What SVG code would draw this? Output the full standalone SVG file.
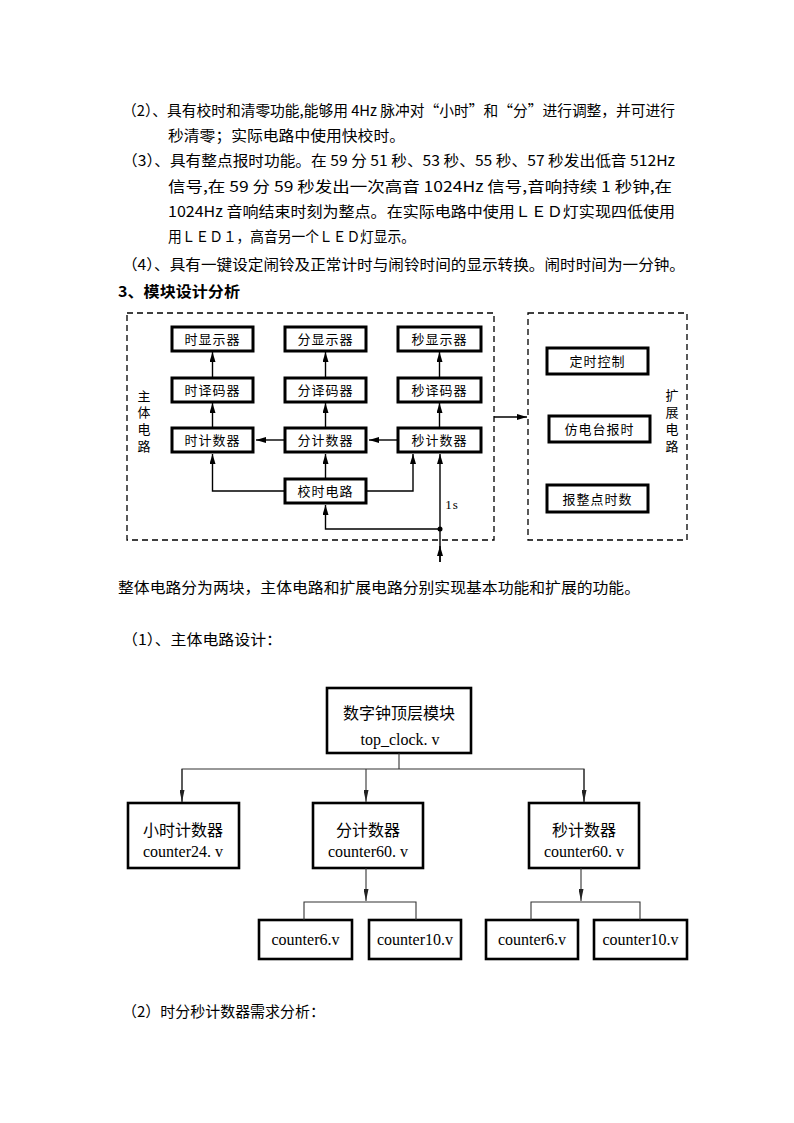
<svg xmlns="http://www.w3.org/2000/svg" width="794" height="1123" viewBox="0 0 794 1123">
<style>
.t{font-family:"Noto Sans CJK SC","Liberation Sans",sans-serif;font-size:15px;fill:#000}
.b{font-family:"Liberation Serif","Noto Sans CJK SC",serif;font-size:13px;fill:#000;text-anchor:middle}
.v{font-family:"Liberation Serif","Noto Sans CJK SC",serif;font-size:13px;fill:#000;text-anchor:middle}
.n{font-family:"Liberation Serif","Noto Sans CJK SC",serif;font-size:16px;fill:#000;text-anchor:middle}
.box{fill:#fff;stroke:#000;stroke-width:3}
.tbox{fill:#fff;stroke:#000;stroke-width:2.6}
.dash{fill:none;stroke:#000;stroke-width:1.3;stroke-dasharray:6,4}
.ln{fill:none;stroke:#000;stroke-width:1.4}
.tl{fill:none;stroke:#333;stroke-width:1.1}
</style>
<defs>
<marker id="a" viewBox="0 0 10 6" refX="10" refY="3" markerWidth="10" markerHeight="6" markerUnits="userSpaceOnUse" orient="auto">
<path d="M0,0 L10,3 L0,6 Z" fill="#000"/>
</marker>
<marker id="ta" viewBox="0 0 12 5" refX="12" refY="2.5" markerWidth="12" markerHeight="5" markerUnits="userSpaceOnUse" orient="auto">
<path d="M0,0 L12,2.5 L0,5 Z" fill="#222"/>
</marker>
</defs>
<rect width="794" height="1123" fill="#fff"/>

<g id="text-top">
<text class="t" x="122" y="116" textLength="553" lengthAdjust="spacingAndGlyphs">（2）、具有校时和清零功能,能够用 4Hz 脉冲对“小时”和“分”进行调整，并可进行</text>
<text class="t" x="168" y="141" textLength="237" lengthAdjust="spacingAndGlyphs">秒清零；实际电路中使用快校时。</text>
<text class="t" x="122" y="166" textLength="553" lengthAdjust="spacingAndGlyphs">（3）、具有整点报时功能。在 59 分 51 秒、53 秒、55 秒、57 秒发出低音 512Hz</text>
<text class="t" x="168" y="192" textLength="504" lengthAdjust="spacingAndGlyphs">信号,在 59 分 59 秒发出一次高音 1024Hz 信号,音响持续 1 秒钟,在</text>
<text class="t" x="168" y="217" textLength="507" lengthAdjust="spacingAndGlyphs">1024Hz 音响结束时刻为整点。在实际电路中使用ＬＥＤ灯实现四低使用</text>
<text class="t" x="168" y="242" textLength="247" lengthAdjust="spacingAndGlyphs">用ＬＥＤ１，高音另一个ＬＥＤ灯显示。</text>
<text class="t" x="122" y="270" textLength="563" lengthAdjust="spacingAndGlyphs">（4）、具有一键设定闹铃及正常计时与闹铃时间的显示转换。闹时时间为一分钟。</text>
<text class="t" x="118" y="297" font-weight="bold" textLength="122" lengthAdjust="spacingAndGlyphs">3、模块设计分析</text>
</g>

<g id="block-diagram">
<rect class="dash" x="127" y="313" width="367" height="227"/>
<rect class="dash" x="528" y="313" width="159" height="227"/>
<g id="labels-vertical">
<text class="v" x="144" y="401">主</text>
<text class="v" x="144" y="417">体</text>
<text class="v" x="144" y="434">电</text>
<text class="v" x="144" y="451">路</text>
<text class="v" x="672" y="400">扩</text>
<text class="v" x="672" y="417">展</text>
<text class="v" x="672" y="434">电</text>
<text class="v" x="672" y="451">路</text>
</g>
<g id="n-shi-disp"><rect class="box" x="172" y="327" width="81" height="24"/><text class="b" x="212.5" y="344" letter-spacing="1">时显示器</text></g>
<g id="n-fen-disp"><rect class="box" x="285" y="327" width="81" height="24"/><text class="b" x="325.5" y="344" letter-spacing="1">分显示器</text></g>
<g id="n-miao-disp"><rect class="box" x="398" y="327" width="83" height="24"/><text class="b" x="439.5" y="344" letter-spacing="1">秒显示器</text></g>
<g id="n-shi-dec"><rect class="box" x="172" y="378" width="81" height="24"/><text class="b" x="212.5" y="395" letter-spacing="1">时译码器</text></g>
<g id="n-fen-dec"><rect class="box" x="285" y="378" width="81" height="24"/><text class="b" x="325.5" y="395" letter-spacing="1">分译码器</text></g>
<g id="n-miao-dec"><rect class="box" x="398" y="378" width="83" height="24"/><text class="b" x="439.5" y="395" letter-spacing="1">秒译码器</text></g>
<g id="n-shi-cnt"><rect class="box" x="172" y="428" width="81" height="24"/><text class="b" x="212.5" y="445" letter-spacing="1">时计数器</text></g>
<g id="n-fen-cnt"><rect class="box" x="285" y="428" width="81" height="24"/><text class="b" x="325.5" y="445" letter-spacing="1">分计数器</text></g>
<g id="n-miao-cnt"><rect class="box" x="398" y="428" width="83" height="24"/><text class="b" x="439.5" y="445" letter-spacing="1">秒计数器</text></g>
<g id="n-jiaoshi"><rect class="box" x="285" y="479" width="81" height="24"/><text class="b" x="325.5" y="496" letter-spacing="1">校时电路</text></g>
<g id="n-dingshi"><rect class="box" x="547" y="348" width="101" height="26"/><text class="b" x="597.5" y="366" letter-spacing="1">定时控制</text></g>
<g id="n-fangdiantai"><rect class="box" x="549" y="416" width="101" height="26"/><text class="b" x="599.5" y="434" letter-spacing="1">仿电台报时</text></g>
<g id="n-baozhengdian"><rect class="box" x="547" y="485" width="101" height="27"/><text class="b" x="597.5" y="504" letter-spacing="1">报整点时数</text></g>
<text class="b" x="452" y="509" font-size="14" letter-spacing="1">1s</text>
</g>

<g id="connectors-block">
<line class="ln" x1="212.5" y1="378" x2="212.5" y2="352" marker-end="url(#a)"/>
<line class="ln" x1="325.5" y1="378" x2="325.5" y2="352" marker-end="url(#a)"/>
<line class="ln" x1="439.5" y1="378" x2="439.5" y2="352" marker-end="url(#a)"/>
<line class="ln" x1="212.5" y1="428" x2="212.5" y2="403" marker-end="url(#a)"/>
<line class="ln" x1="325.5" y1="428" x2="325.5" y2="403" marker-end="url(#a)"/>
<line class="ln" x1="439.5" y1="428" x2="439.5" y2="403" marker-end="url(#a)"/>
<line class="ln" x1="285" y1="440" x2="256" y2="440" marker-end="url(#a)"/>
<line class="ln" x1="398" y1="440" x2="369" y2="440" marker-end="url(#a)"/>
<polyline class="ln" points="285,491 212.5,491 212.5,454" marker-end="url(#a)"/>
<line class="ln" x1="325.5" y1="479" x2="325.5" y2="454" marker-end="url(#a)"/>
<polyline class="ln" points="366,491 413,491 413,454" marker-end="url(#a)"/>
<line class="ln" x1="440" y1="562" x2="440" y2="454" marker-end="url(#a)"/>
<line class="ln" x1="440" y1="562" x2="440" y2="546" marker-end="url(#a)"/>
<polyline class="ln" points="440,529 325.5,529 325.5,505" marker-end="url(#a)"/>
<circle cx="440" cy="529" r="2.5" fill="#000"/>
<line class="ln" x1="494" y1="417" x2="527" y2="417" marker-end="url(#a)"/>
</g>

<g id="text-mid">
<text class="t" x="118" y="593" textLength="522" lengthAdjust="spacingAndGlyphs">整体电路分为两块，主体电路和扩展电路分别实现基本功能和扩展的功能。</text>
<text class="t" x="122" y="645" textLength="160" lengthAdjust="spacingAndGlyphs">（1）、主体电路设计：</text>
</g>

<g id="tree">
<g id="n-top"><rect class="tbox" x="327" y="688" width="144" height="65"/><text class="n" x="399" y="719" font-size="17">数字钟顶层模块</text><text class="n" x="400" y="745">top_clock. v</text></g>
<g id="n-hour"><rect class="tbox" x="128" y="803" width="111" height="65"/><text class="n" x="183" y="836">小时计数器</text><text class="n" x="183" y="857">counter24. v</text></g>
<g id="n-min"><rect class="tbox" x="313" y="803" width="110" height="65"/><text class="n" x="368" y="836">分计数器</text><text class="n" x="368" y="857">counter60. v</text></g>
<g id="n-sec"><rect class="tbox" x="529" y="803" width="110" height="65"/><text class="n" x="584" y="836">秒计数器</text><text class="n" x="584" y="857">counter60. v</text></g>
<g id="n-m6"><rect class="tbox" x="259" y="920" width="93" height="39"/><text class="n" x="305.5" y="945">counter6.v</text></g>
<g id="n-m10"><rect class="tbox" x="369" y="920" width="92" height="39"/><text class="n" x="415" y="945">counter10.v</text></g>
<g id="n-s6"><rect class="tbox" x="486" y="920" width="92" height="39"/><text class="n" x="532" y="945">counter6.v</text></g>
<g id="n-s10"><rect class="tbox" x="594" y="920" width="93" height="39"/><text class="n" x="640.5" y="945">counter10.v</text></g>
</g>

<g id="connectors-tree">
<polyline class="tl" points="399,753 399,769"/>
<polyline class="tl" points="182,802 182,769 584,769 584,802"/>
<line class="tl" x1="182" y1="769" x2="182" y2="802" marker-end="url(#ta)"/>
<line class="tl" x1="366" y1="769" x2="366" y2="802" marker-end="url(#ta)"/>
<line class="tl" x1="584" y1="769" x2="584" y2="802" marker-end="url(#ta)"/>
<line class="tl" x1="366" y1="868" x2="366" y2="901" marker-end="url(#ta)"/>
<polyline class="tl" points="304,920 304,902 416,902 416,920"/>
<line class="tl" x1="581" y1="868" x2="581" y2="901" marker-end="url(#ta)"/>
<polyline class="tl" points="531,920 531,902 640,902 640,920"/>
</g>

<g id="text-bottom">
<text class="t" x="122" y="1017" textLength="203" lengthAdjust="spacingAndGlyphs">（2）时分秒计数器需求分析：</text>
</g>
</svg>
